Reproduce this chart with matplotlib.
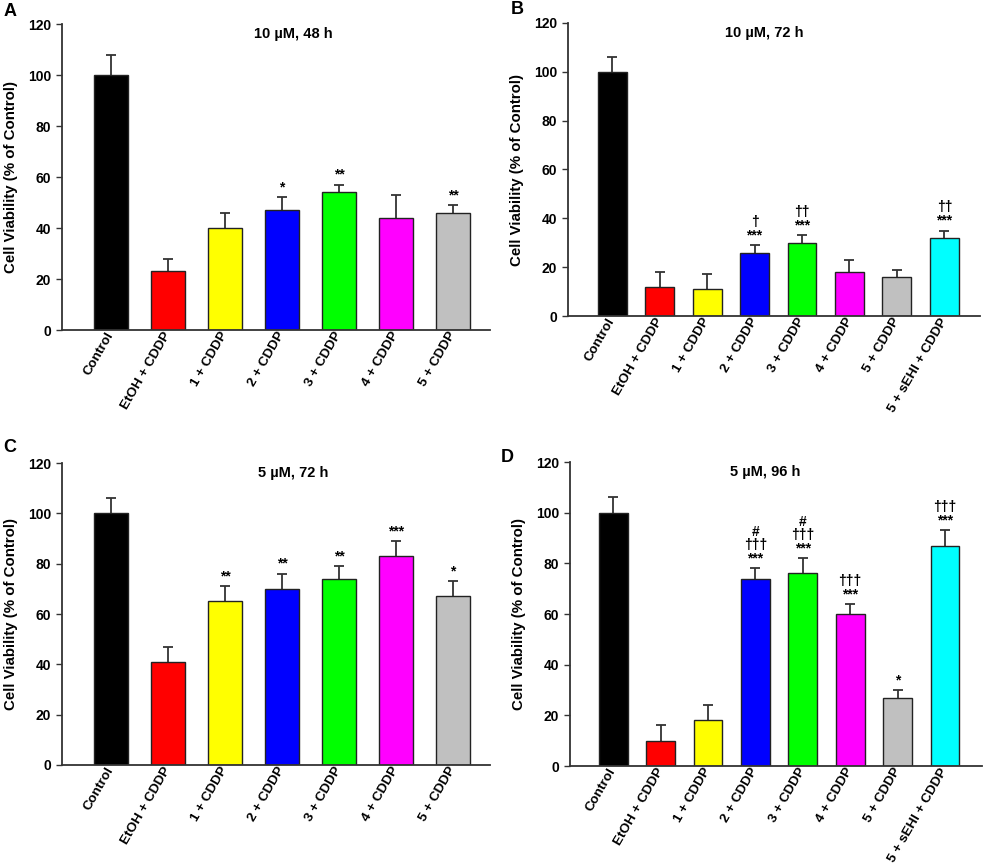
import matplotlib
matplotlib.use("Agg")
import matplotlib.pyplot as plt
import numpy as np

plt.rcParams['font.family'] = ['Liberation Sans', 'DejaVu Sans']
plt.rcParams['font.weight'] = 'bold'

# data
labels_7 = ['Control', 'EtOH + CDDP', '1 + CDDP', '2 + CDDP', '3 + CDDP', '4 + CDDP', '5 + CDDP']
labels_8 = labels_7 + ['5 + sEHI + CDDP']
colors_8 = ['#000000', '#ff0000', '#ffff00', '#0000ff', '#00ff00', '#ff00ff', '#c0c0c0', '#00ffff']

a_vals = [100, 23, 40, 47, 54, 44, 46]
a_err = [8, 5, 6, 5, 3, 9, 3]
a_sig = ['', '', '', '*', '**', '', '**']

b_vals = [100, 12, 11, 26, 30, 18, 16, 32]
b_err = [6, 6, 6, 3, 3, 5, 3, 3]
b_sig = ['', '', '', '\u2020\n***', '\u2020\u2020\n***', '', '', '\u2020\u2020\n***']

c_vals = [100, 41, 65, 70, 74, 83, 67]
c_err = [6, 6, 6, 6, 5, 6, 6]
c_sig = ['', '', '**', '**', '**', '***', '*']

d_vals = [100, 10, 18, 74, 76, 60, 27, 87]
d_err = [6, 6, 6, 4, 6, 4, 3, 6]
d_sig = ['', '', '', '#\n\u2020\u2020\u2020\n***', '#\n\u2020\u2020\u2020\n***',
         '\u2020\u2020\u2020\n***', '*', '\u2020\u2020\u2020\n***']

W, H = 983, 868
fig = plt.figure(figsize=(W / 100, H / 100), dpi=100)


def make_axes(left, right, top, bottom):
    return fig.add_axes([left / W, 1 - bottom / H, (right - left) / W, (bottom - top) / H])


def draw_panel(ax, vals, errs, sigs, labels, title, xlim):
    n = len(vals)
    x = np.arange(n)
    tops = np.array(vals) + np.array(errs)
    # upper error bars only
    ax.vlines(x, vals, tops, color='#333333', linewidth=1.3, zorder=1)
    ax.plot(x, tops, ls='none', marker='_', markersize=7.5, mew=1.3,
            color='#333333', zorder=1)
    ax.bar(x, vals, width=0.61, color=colors_8[:n], edgecolor='#222222',
           linewidth=1.0, zorder=2)
    for i in range(n):
        if sigs[i]:
            ax.annotate(sigs[i], xy=(i, tops[i]), xytext=(0, 2),
                        textcoords='offset points', ha='center', va='bottom',
                        fontsize=10, fontweight='bold', linespacing=0.95)
    ax.set_xlim(*xlim)
    ax.set_ylim(0, 120)
    ax.set_yticks([0, 20, 40, 60, 80, 100, 120])
    ax.set_xticks(x)
    ax.set_xticklabels(labels, rotation=60, ha='right', va='center',
                       rotation_mode='anchor', fontsize=9.7, fontweight='bold')
    ax.tick_params(axis='x', length=0, pad=2)
    ax.tick_params(axis='y', length=4, width=1.0, color='#333333', labelsize=10, pad=4)
    ax.spines['top'].set_visible(False)
    ax.spines['right'].set_visible(False)
    for s in ['left', 'bottom']:
        ax.spines[s].set_color('#333333')
        ax.spines[s].set_linewidth(1.3)
    ax.set_ylabel('Cell Viability (% of Control)', fontsize=10.8, fontweight='bold', labelpad=7)
    ax.text(3.2, 116, title, ha='center', va='center', fontsize=10.5, fontweight='bold')


ax_a = make_axes(62, 490, 24, 330)
ax_b = make_axes(568, 980, 23, 316)
ax_c = make_axes(62, 490, 463, 765)
ax_d = make_axes(570, 982, 462, 766)

draw_panel(ax_a, a_vals, a_err, a_sig, labels_7, '10 \u00b5M, 48 h', (-0.86, 6.65))
draw_panel(ax_b, b_vals, b_err, b_sig, labels_8, '10 \u00b5M, 72 h', (-0.93, 7.75))
draw_panel(ax_c, c_vals, c_err, c_sig, labels_7, '5 \u00b5M, 72 h', (-0.86, 6.65))
draw_panel(ax_d, d_vals, d_err, d_sig, labels_8, '5 \u00b5M, 96 h', (-0.91, 7.78))

for letter, px, py in [('A', 10, 11), ('B', 517, 9), ('C', 10, 448), ('D', 507, 458)]:
    fig.text(px / W, 1 - py / H, letter, ha='center', va='center', fontsize=13, fontweight='bold')

fig.savefig('out.png', dpi=100)
